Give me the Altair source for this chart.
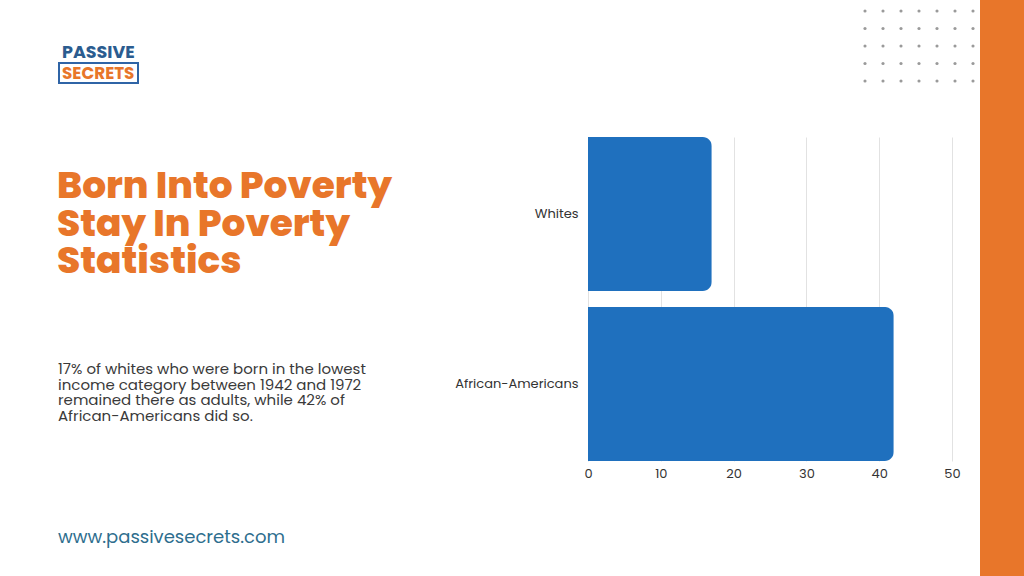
import altair as alt
import pandas as pd

# ---- data ----
groups = ["Whites", "African-Americans"]
values = [17, 42]
x_ticks = [0, 10, 20, 30, 40, 50]

title_lines = ["Born Into Poverty", "Stay In Poverty", "Statistics"]
body_lines = [
    "17% of whites who were born in the lowest",
    "income category between 1942 and 1972",
    "remained there as adults, while 42% of",
    "African-Americans did so.",
]
url_text = "www.passivesecrets.com"
logo_top = "PASSIVE"
logo_bottom = "SECRETS"
dot_cols = list(range(7))
dot_rows = list(range(5))

# ---- layout (plot area inside a 1024x576 page) ----
PL, PT, PW, PH = 588, 137, 364, 324
ORANGE = "#E8762A"
BLUE = "#1F70BE"
FONT = "Poppins, Open Sans, Lato, sans-serif"

df = pd.DataFrame({"group": groups, "value": values})

bars = alt.Chart(df).mark_bar(color=BLUE, cornerRadiusEnd=9).encode(
    x=alt.X("value:Q", scale=alt.Scale(domain=[0, 50], nice=False),
            axis=alt.Axis(values=x_ticks, title=None, grid=True, gridColor="#e2e2e2",
                          domain=False, ticks=False, labelFontSize=13, labelColor="#333",
                          labelFont=FONT, labelPadding=6, labelFlush=False)),
    y=alt.Y("group:N", sort=groups,
            scale=alt.Scale(paddingInner=0.094, paddingOuter=0),
            axis=alt.Axis(title=None, domain=False, ticks=False, labelFontSize=13,
                          labelColor="#333", labelFont=FONT, labelPadding=10)),
)

def txt(lines, x, y0, step, size, color, weight="normal"):
    d = pd.DataFrame({"t": lines, "i": list(range(len(lines)))})
    d["py"] = y0 - PT + d["i"] * step
    return alt.Chart(d).mark_text(
        align="left", baseline="alphabetic", fontSize=size, color=color, font=FONT,
        fontWeight=weight,
    ).encode(text="t:N", x=alt.value(x - PL),
             y=alt.Y("py:Q", scale=None, axis=None))

title = txt(title_lines, 57, 198, 37.5, 37.5, ORANGE, weight=800)
body = txt(body_lines, 58, 374, 15.5, 15, "#3a3a3a")
url = txt([url_text], 58, 543, 0, 18, "#2E6E8E")

logo1 = txt([logo_top], 62, 58, 0, 17.5, "#2B5C8F", weight="bold")
logo2 = txt([logo_bottom], 62, 79, 0, 16.8, ORANGE, weight="bold")
logo_box = alt.Chart(pd.DataFrame({"a": [0]})).mark_rect(
    fill=None, stroke="#2F64A6", strokeWidth=2
).encode(x=alt.value(59 - PL), x2=alt.value(138 - PL), y=alt.value(63 - PT), y2=alt.value(83 - PT))

strip = alt.Chart(pd.DataFrame({"a": [0]})).mark_rect(color=ORANGE).encode(
    x=alt.value(980 - PL), x2=alt.value(1030 - PL), y=alt.value(-PT - 5), y2=alt.value(600 - PT)
)

dots_df = pd.DataFrame([(c, r) for c in dot_cols for r in dot_rows], columns=["c", "r"])
dots = alt.Chart(dots_df).mark_circle(size=10, color="#9a9a9a", opacity=1).encode(
    x=alt.X("c:Q", scale=alt.Scale(domain=[0, 6], range=[865 - PL, 973 - PL]), axis=None),
    y=alt.Y("r:Q", scale=alt.Scale(domain=[0, 4], range=[11 - PT, 81 - PT]), axis=None),
)

chart = alt.layer(strip, dots, bars, title, body, url, logo_box, logo1, logo2).resolve_scale(
    x="independent", y="independent"
).properties(
    width=PW, height=PH,
    autosize=alt.AutoSizeParams(type="none"),
    padding={"left": PL, "top": PT, "right": 1024 - PL - PW, "bottom": 576 - PT - PH},
    background="white",
).configure_view(stroke=None)

chart.save("out.html", embed_options={"renderer": "svg", "actions": False})
